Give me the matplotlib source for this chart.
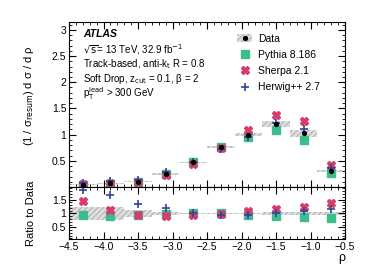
import matplotlib.pyplot as plt
import numpy as np
from matplotlib.ticker import MultipleLocator
from matplotlib.patches import Patch
from matplotlib.lines import Line2D

# bins in rho
bin_edges = [-4.5, -4.1, -3.7, -3.3, -2.9, -2.5, -2.1, -1.7, -1.3, -0.9, -0.5]
data = [0.04, 0.07, 0.105, 0.245, 0.47, 0.76, 1.0, 1.2, 1.03, 0.31]
data_rel_err = [0.25, 0.23, 0.13, 0.06, 0.03, 0.027, 0.03, 0.05, 0.065, 0.07]
pythia_ratio = [0.94, 0.92, 0.96, 0.99, 1.02, 1.0, 0.96, 0.91, 0.87, 0.85]
sherpa_ratio = [1.45, 1.12, 0.96, 0.91, 0.94, 0.98, 1.08, 1.15, 1.23, 1.37]
herwig_ratio = [1.85, 1.67, 1.33, 1.18, 1.0, 0.95, 0.95, 1.02, 1.08, 1.15]

edges = np.array(bin_edges)
centers = (edges[:-1] + edges[1:]) / 2
width = edges[1:] - edges[:-1]
data = np.array(data)
err = np.array(data_rel_err)
pythia = data * np.array(pythia_ratio)
sherpa = data * np.array(sherpa_ratio)
herwig = data * np.array(herwig_ratio)

green = '#3dbd8c'
pink = '#d63c6c'
blue = '#34439a'
plt.rcParams['font.family'] = ['Liberation Sans', 'DejaVu Sans']
plt.rcParams['hatch.color'] = '#a8a8a8'
plt.rcParams['hatch.linewidth'] = 0.6

fig = plt.figure(figsize=(3.74, 2.68), dpi=100)
ax = fig.add_axes([0.1845, 0.302, 0.738, 0.616])
rax = fig.add_axes([0.1845, 0.108, 0.738, 0.194], sharex=ax)

# main panel
ax.bar(centers, 2 * data * err, width=width, bottom=data - data * err,
       color='#dedede', hatch='//////', edgecolor='#a8a8a8', linewidth=0)
ax.plot(centers, pythia, 's', color=green, ms=5.3, mec=green)
ax.plot(centers, sherpa, 'X', color=pink, ms=5.8, mec=pink)
ax.plot(centers, herwig, '+', color=blue, ms=6, mew=1.2)
ax.plot(centers, data, 'o', color='black', ms=2.8)

ax.set_xlim(-4.5, -0.5)
ax.set_ylim(0, 3.15)
ax.set_ylabel('(1 / σ$_{\\rm resum}$) d σ / d ρ', fontsize=8)
ax.yaxis.set_label_coords(-0.12, 0.55)

# ratio panel
band_lo = np.append(1 - err, 1 - err[-1])
band_hi = np.append(1 + err, 1 + err[-1])
rax.fill_between(edges, band_lo, band_hi, step='post', color='#dedede',
                 hatch='//////', edgecolor='#a8a8a8', linewidth=0)
rax.plot(centers, pythia_ratio, 's', color=green, ms=5.3, mec=green)
rax.plot(centers, sherpa_ratio, 'X', color=pink, ms=5.8, mec=pink)
rax.plot(centers, herwig_ratio, '+', color=blue, ms=6, mew=1.2)
rax.set_ylim(0.08, 1.95)
rax.set_ylabel('Ratio to Data', fontsize=8)
rax.yaxis.set_label_coords(-0.12, 0.5)
rax.set_xlabel('ρ', fontsize=9, loc='right', labelpad=0)

for a in (ax, rax):
    a.tick_params(which='both', direction='in', top=True, right=True, labelsize=7.5, pad=2)
    a.tick_params(which='major', length=5)
    a.tick_params(which='minor', length=2.5)
    a.xaxis.set_major_locator(MultipleLocator(0.5))
    a.xaxis.set_minor_locator(MultipleLocator(0.1))
    a.yaxis.set_major_locator(MultipleLocator(0.5))
    a.yaxis.set_minor_locator(MultipleLocator(0.1))
plt.setp(ax.get_xticklabels(), visible=False)
ax.set_yticks([0.5, 1, 1.5, 2, 2.5, 3])
ax.set_yticklabels(['0.5', '1', '1.5', '2', '2.5', '3'])
rax.set_yticks([0.5, 1, 1.5])
rax.set_yticklabels(['0.5', '1', '1.5'])

# labels
ax.text(0.05, 0.93, 'ATLAS', transform=ax.transAxes, fontsize=7.5,
        fontweight='bold', fontstyle='italic', va='center')
lines = [r'$\sqrt{\rm s}$= 13 TeV, 32.9 fb$^{-1}$',
         r'Track-based, anti-k$_{\rm t}$ R = 0.8',
         'Soft Drop, z$_{\\rm cut}$ = 0.1, β = 2',
         r'p$_{\rm T}^{\rm lead}$ > 300 GeV']
for i, t in enumerate(lines):
    ax.text(0.05, 0.835 - i * 0.09, t, transform=ax.transAxes, fontsize=7, va='center')

handles = [
    (Patch(facecolor='#dedede', hatch='//////', edgecolor='#a8a8a8', linewidth=0),
     Line2D([], [], marker='o', color='black', ls='', ms=2.8)),
    Line2D([], [], marker='s', color=green, ls='', ms=5.3),
    Line2D([], [], marker='X', color=pink, ls='', ms=5.8),
    Line2D([], [], marker='+', color=blue, ls='', ms=6, mew=1.2),
]
ax.legend(handles, ['Data', 'Pythia 8.186', 'Sherpa 2.1', 'Herwig++ 2.7'],
          loc='upper left', bbox_to_anchor=(0.595, 0.955), frameon=False,
          fontsize=7.5, handlelength=1.4, handletextpad=0.6, labelspacing=0.6,
          borderaxespad=0)

fig.savefig('out.png', dpi=100)
